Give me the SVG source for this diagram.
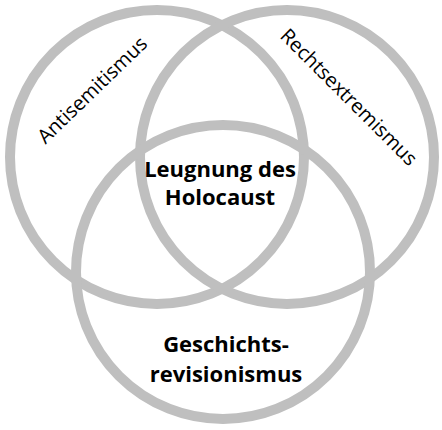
<svg xmlns="http://www.w3.org/2000/svg" width="442" height="430" viewBox="0 0 442 430">
  <style>
    .ring { fill: none; stroke: #bfbfbf; stroke-width: 10; }
    .lbl { font-family: "Open Sans", "Liberation Sans", sans-serif; fill: #000000; }
    .bold { font-weight: bold; font-size: 22px; text-anchor: middle; }
    .side { font-size: 20px; text-anchor: middle; }
  </style>
  <rect width="442" height="430" fill="#ffffff"/>
  <g id="connectors"></g>
  <g id="antisemitismus">
    <circle class="ring" cx="157" cy="157" r="147"/>
    <text class="lbl side" transform="translate(97,95) rotate(-44)">Antisemitismus</text>
  </g>
  <g id="rechtsextremismus">
    <circle class="ring" cx="287" cy="157" r="147"/>
    <text class="lbl side" transform="translate(344,102) rotate(45)">Rechtsextremismus</text>
  </g>
  <g id="geschichtsrevisionismus">
    <circle class="ring" cx="223" cy="272" r="147"/>
    <text class="lbl bold" x="226" y="352">Geschichts-</text>
    <text class="lbl bold" x="226" y="382">revisionismus</text>
  </g>
  <g id="leugnung">
    <text class="lbl bold" x="220" y="177">Leugnung des</text>
    <text class="lbl bold" x="220" y="205">Holocaust</text>
  </g>
</svg>
